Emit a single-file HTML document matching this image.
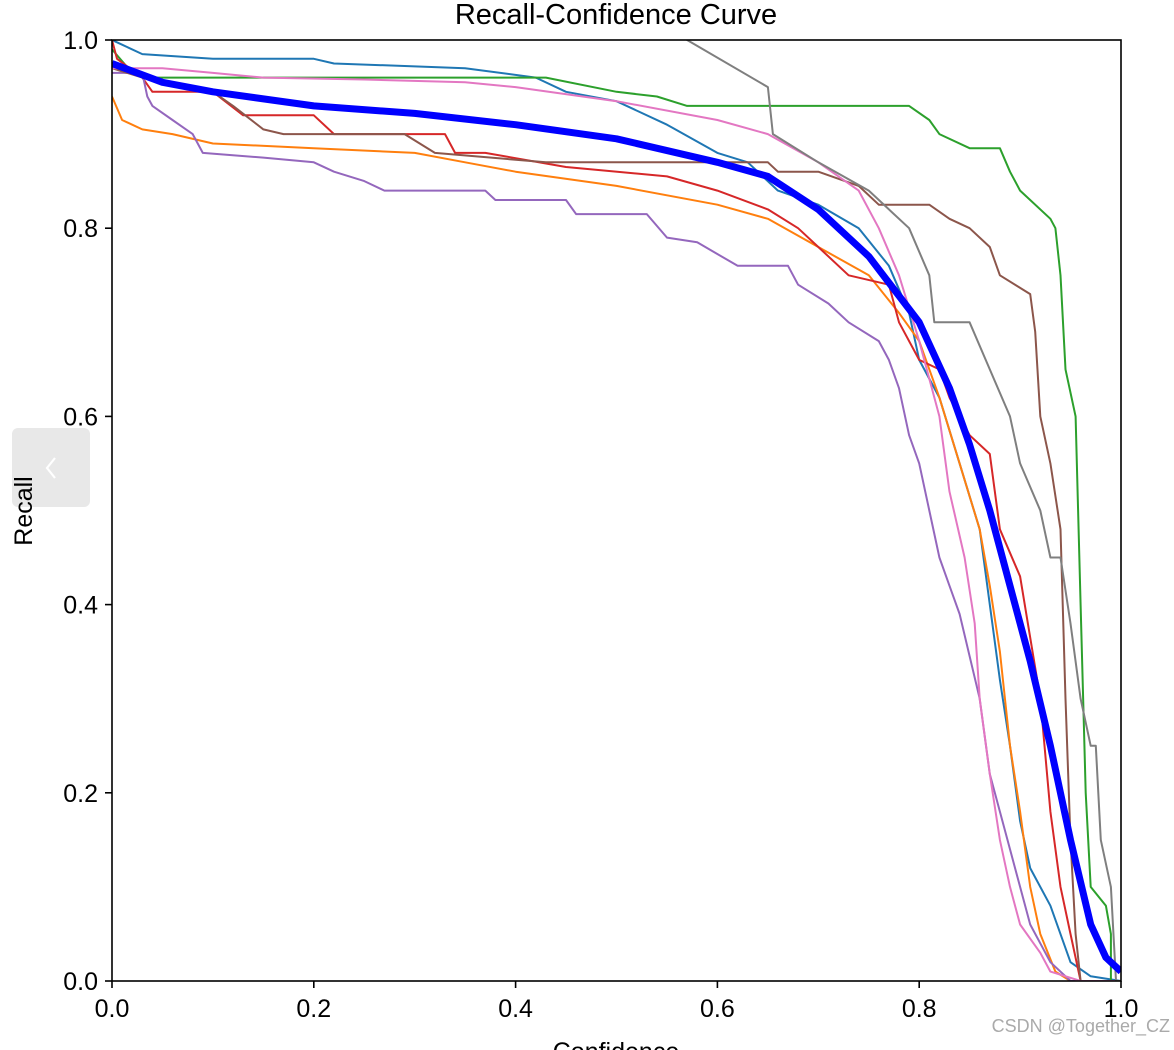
<!DOCTYPE html>
<html><head><meta charset="utf-8"><style>
body{margin:0;background:#fff;width:1174px;height:1050px;overflow:hidden;position:relative;font-family:"Liberation Sans","DejaVu Sans",sans-serif}
svg{position:absolute;left:0;top:0}
</style></head><body>
<svg id="chart" width="1174" height="1050">
<defs><clipPath id="plotclip"><rect x="112" y="40" width="1009" height="941"/></clipPath></defs>
<text x="616" y="24" text-anchor="middle" font-size="29" fill="#000">Recall-Confidence Curve</text>
<g id="series" clip-path="url(#plotclip)"></g>
<rect x="112" y="40" width="1009" height="941" fill="none" stroke="#000" stroke-width="1.6"/>
<g id="axes"></g>
<text x="616" y="1060" text-anchor="middle" font-size="25">Confidence</text>
<rect x="12" y="428" width="78" height="79" rx="6" fill="#e6e6e6" fill-opacity="0.9"/>
<polyline points="55,458 47,468 55,478" fill="none" stroke="#fff" stroke-width="2.2"/>
<text transform="translate(32,511) rotate(-90)" text-anchor="middle" font-size="25">Recall</text>
<text x="1170" y="1032" text-anchor="end" font-size="18" fill="#aaa">CSDN @Together_CZ</text>
</svg>
<script>
const xTicks=[0,0.2,0.4,0.6,0.8,1.0];
const yTicks=[0,0.2,0.4,0.6,0.8,1.0];
const tickLabels=["0.0","0.2","0.4","0.6","0.8","1.0"];
const seriesNames=["class-0","class-1","class-2","class-3","class-4","class-5","class-6","class-7","all-classes"];
const seriesColors=["#1f77b4","#ff7f0e","#2ca02c","#d62728","#9467bd","#8c564b","#e377c2","#7f7f7f","#0000ff"];
const s0=[[0,1.0],[0.01,0.995],[0.03,0.985],[0.1,0.98],[0.2,0.98],[0.22,0.975],[0.35,0.97],[0.42,0.96],[0.45,0.945],[0.5,0.935],[0.55,0.91],[0.6,0.88],[0.63,0.87],[0.66,0.84],[0.7,0.825],[0.74,0.8],[0.77,0.76],[0.79,0.71],[0.8,0.66],[0.82,0.62],[0.84,0.55],[0.86,0.48],[0.87,0.4],[0.88,0.32],[0.89,0.25],[0.9,0.17],[0.91,0.12],[0.93,0.08],[0.95,0.02],[0.97,0.005],[1,0]];
const s1=[[0,0.94],[0.01,0.915],[0.03,0.905],[0.06,0.9],[0.1,0.89],[0.2,0.885],[0.3,0.88],[0.35,0.87],[0.4,0.86],[0.5,0.845],[0.6,0.825],[0.65,0.81],[0.7,0.78],[0.75,0.75],[0.78,0.71],[0.8,0.68],[0.82,0.62],[0.84,0.55],[0.86,0.48],[0.87,0.42],[0.88,0.35],[0.89,0.25],[0.9,0.18],[0.91,0.1],[0.92,0.05],[0.935,0.01],[0.95,0],[1,0]];
const s2=[[0,0.99],[0.02,0.965],[0.03,0.96],[0.43,0.96],[0.5,0.945],[0.54,0.94],[0.57,0.93],[0.79,0.93],[0.81,0.915],[0.82,0.9],[0.85,0.885],[0.88,0.885],[0.89,0.86],[0.9,0.84],[0.93,0.81],[0.935,0.8],[0.94,0.75],[0.945,0.65],[0.955,0.6],[0.96,0.4],[0.965,0.2],[0.97,0.1],[0.985,0.08],[0.99,0.05],[0.99,0],[1,0]];
const s3=[[0,1.0],[0.005,0.98],[0.03,0.96],[0.04,0.945],[0.1,0.945],[0.13,0.92],[0.2,0.92],[0.22,0.9],[0.33,0.9],[0.34,0.88],[0.37,0.88],[0.45,0.865],[0.55,0.855],[0.6,0.84],[0.65,0.82],[0.68,0.8],[0.7,0.78],[0.73,0.75],[0.77,0.74],[0.78,0.7],[0.8,0.66],[0.82,0.65],[0.83,0.62],[0.85,0.58],[0.87,0.56],[0.88,0.48],[0.9,0.43],[0.92,0.3],[0.93,0.18],[0.94,0.1],[0.95,0.05],[0.96,0],[1,0]];
const s4=[[0,0.965],[0.03,0.965],[0.035,0.94],[0.04,0.93],[0.06,0.915],[0.08,0.9],[0.09,0.88],[0.15,0.875],[0.2,0.87],[0.22,0.86],[0.25,0.85],[0.27,0.84],[0.37,0.84],[0.38,0.83],[0.45,0.83],[0.46,0.815],[0.53,0.815],[0.55,0.79],[0.58,0.785],[0.62,0.76],[0.67,0.76],[0.68,0.74],[0.71,0.72],[0.73,0.7],[0.76,0.68],[0.77,0.66],[0.78,0.63],[0.79,0.58],[0.8,0.55],[0.81,0.5],[0.82,0.45],[0.83,0.42],[0.84,0.39],[0.86,0.3],[0.87,0.22],[0.88,0.18],[0.89,0.14],[0.9,0.1],[0.91,0.06],[0.93,0.02],[0.95,0],[1,0]];
const s5=[[0,0.97],[0.03,0.96],[0.1,0.945],[0.12,0.93],[0.15,0.905],[0.17,0.9],[0.29,0.9],[0.32,0.88],[0.43,0.87],[0.65,0.87],[0.66,0.86],[0.7,0.86],[0.74,0.845],[0.76,0.825],[0.81,0.825],[0.83,0.81],[0.85,0.8],[0.87,0.78],[0.88,0.75],[0.91,0.73],[0.915,0.69],[0.92,0.6],[0.93,0.55],[0.94,0.48],[0.945,0.3],[0.95,0.15],[0.955,0.05],[0.96,0],[1,0]];
const s6=[[0,0.97],[0.05,0.97],[0.1,0.965],[0.15,0.96],[0.25,0.958],[0.35,0.955],[0.4,0.95],[0.5,0.935],[0.6,0.915],[0.65,0.9],[0.7,0.87],[0.74,0.84],[0.76,0.8],[0.78,0.75],[0.8,0.68],[0.82,0.6],[0.83,0.52],[0.845,0.45],[0.855,0.38],[0.86,0.3],[0.87,0.22],[0.88,0.15],[0.89,0.1],[0.9,0.06],[0.92,0.03],[0.93,0.01],[0.96,0],[1,0]];
const s7=[[0.55,1.02],[0.57,1.0],[0.65,0.95],[0.655,0.9],[0.7,0.87],[0.75,0.84],[0.79,0.8],[0.81,0.75],[0.815,0.7],[0.85,0.7],[0.87,0.65],[0.89,0.6],[0.9,0.55],[0.92,0.5],[0.93,0.45],[0.94,0.45],[0.95,0.38],[0.96,0.3],[0.97,0.25],[0.975,0.25],[0.98,0.15],[0.99,0.1],[0.995,0],[1,0]];
const s8=[[0,0.975],[0.05,0.955],[0.1,0.945],[0.2,0.93],[0.3,0.922],[0.4,0.91],[0.5,0.895],[0.6,0.87],[0.65,0.855],[0.7,0.82],[0.75,0.77],[0.8,0.7],[0.83,0.63],[0.85,0.57],[0.87,0.5],[0.89,0.42],[0.91,0.34],[0.93,0.25],[0.95,0.15],[0.97,0.06],[0.985,0.025],[1.0,0.01]];
const allSeries=[s0,s1,s2,s3,s4,s5,s6,s7,s8];
const NS="http://www.w3.org/2000/svg";
function xs(v){return 112+v*1009;}
function ys(v){return 981-v*941;}
const sg=document.getElementById('series');
allSeries.forEach((d,i)=>{
  const p=document.createElementNS(NS,'polyline');
  p.setAttribute('points',d.map(q=>xs(q[0]).toFixed(1)+','+ys(q[1]).toFixed(1)).join(' '));
  p.setAttribute('fill','none');
  p.setAttribute('stroke',seriesColors[i]);
  p.setAttribute('stroke-width',i===8?'7':'2');
  p.setAttribute('stroke-linejoin','round');
  
  
  sg.appendChild(p);
});
const ax=document.getElementById('axes');
xTicks.forEach((v,i)=>{
  const l=document.createElementNS(NS,'line');
  l.setAttribute('x1',xs(v));l.setAttribute('x2',xs(v));l.setAttribute('y1',981);l.setAttribute('y2',988);l.setAttribute('stroke','#000');l.setAttribute('stroke-width','1.6');
  
  
  ax.appendChild(l);
  const t=document.createElementNS(NS,'text');
  t.setAttribute('x',xs(v));t.setAttribute('y',1017);t.setAttribute('text-anchor','middle');t.setAttribute('font-size','25');
  t.textContent=tickLabels[i];
  
  
  ax.appendChild(t);
});
yTicks.forEach((v,i)=>{
  const l=document.createElementNS(NS,'line');
  l.setAttribute('x1',105);l.setAttribute('x2',112);l.setAttribute('y1',ys(v));l.setAttribute('y2',ys(v));l.setAttribute('stroke','#000');l.setAttribute('stroke-width','1.6');
  
  
  ax.appendChild(l);
  const t=document.createElementNS(NS,'text');
  t.setAttribute('x',98);t.setAttribute('y',ys(v)+9);t.setAttribute('text-anchor','end');t.setAttribute('font-size','25');
  t.textContent=tickLabels[i];
  
  
  ax.appendChild(t);
});
</script>
</body></html>
